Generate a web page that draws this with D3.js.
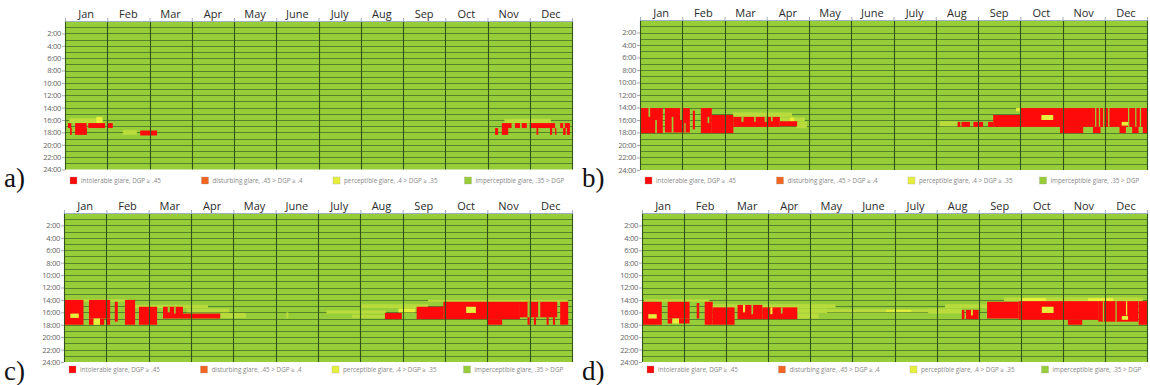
<!DOCTYPE html>
<html><head><meta charset="utf-8">
<script src="https://cdn.jsdelivr.net/npm/d3@7"></script>
<style>body{margin:0;background:#fff}svg{display:block}</style>
</head><body>
<svg id="chart" width="1150" height="385"></svg>
<script>
// ---------- DATA ----------
const months = ["Jan","Feb","Mar","Apr","May","June","July","Aug","Sep","Oct","Nov","Dec"];
const hourTicks = [2,4,6,8,10,12,14,16,18,20,22,24];
const hourLabels = hourTicks.map(h => h + ":00");
const legendLevels = ["r","o","y","g"];
const legendLabels = ["intolerable glare, DGP \u2265 .45","disturbing glare, .45 > DGP \u2265 .4","perceptible glare, .4 > DGP \u2265 .35","imperceptible glare, .35 > DGP"];
const panelLetters = ["a)","b)","c)","d)"];

// glare blocks: [startMonth, endMonth, startHour, endHour, level]
// level: r = intolerable, y = perceptible, p = faint perceptible, g = imperceptible (gap)
const glareA = [
  [0.10,0.90,15.7,16.5,"p"],[0.74,0.88,15.5,16.5,"y"],[1.37,1.70,17.6,18.4,"p"],
  [0.07,0.15,16.5,17.3,"r"],[0.24,0.51,16.5,17.3,"r"],[0.55,0.95,16.5,17.3,"r"],[1.00,1.13,16.5,17.3,"r"],
  [0.12,0.16,17.3,18.4,"r"],[0.24,0.52,17.3,18.4,"r"],[1.78,2.18,17.7,18.5,"r"],
  [10.40,11.50,15.8,16.5,"p"],
  [10.34,11.95,16.5,17.3,"r"],
  [10.57,10.65,16.5,17.3,"g"],[10.77,10.81,16.5,17.3,"g"],[10.93,11.00,16.5,17.3,"g"],[11.60,11.72,16.5,17.3,"g"],[11.79,11.83,16.5,17.3,"g"],
  [10.18,10.25,17.3,18.4,"r"],[10.34,10.49,17.3,18.4,"r"],[11.16,11.20,17.3,18.4,"r"],[11.48,11.53,17.3,18.4,"r"],
  [11.60,11.63,17.3,18.4,"r"],[11.79,11.85,17.3,18.4,"r"],[11.88,11.95,17.3,18.4,"r"]
];
const glareB = [
  [2.20,3.60,14.8,15.5,"p"],[3.30,3.90,15.6,16.2,"p"],[3.55,3.65,15.6,16.2,"y"],[3.70,3.95,16.3,17.3,"p"],
  [0.02,0.54,14.1,18.1,"r"],[0.20,0.24,14.1,15.5,"g"],[0.36,0.40,16.0,18.1,"g"],
  [0.59,1.18,14.1,18.0,"r"],[0.75,0.79,15.5,18.0,"g"],[0.95,0.99,14.1,16.0,"g"],[1.05,1.08,16.5,18.0,"g"],
  [1.25,1.30,14.5,17.5,"r"],
  [1.44,1.70,14.1,18.1,"r"],[1.70,2.21,15.2,18.1,"r"],[1.60,1.64,15.5,16.5,"g"],
  [2.21,3.31,15.5,17.1,"r"],[2.40,2.45,15.5,16.3,"g"],[2.70,2.74,15.5,16.3,"g"],[2.95,3.00,15.5,16.3,"g"],[3.10,3.14,15.5,16.2,"g"],
  [3.31,3.72,16.2,17.0,"r"],
  [7.10,7.50,16.2,17.0,"p"],[8.90,9.00,14.1,14.6,"y"],
  [7.52,7.58,16.3,17.1,"r"],[7.61,7.81,16.3,17.1,"r"],[7.89,8.12,16.3,17.1,"r"],[8.24,8.36,16.3,17.1,"r"],
  [8.36,9.00,15.2,17.1,"r"],[9.00,10.72,14.1,17.1,"r"],[9.94,10.49,17.1,18.1,"r"],
  [9.50,9.78,15.2,16.0,"y"],
  [10.72,12.00,14.1,17.1,"r"],
  [10.77,10.80,14.1,17.1,"g"],[10.86,10.89,14.1,17.1,"g"],[10.96,10.99,14.1,17.1,"g"],[11.08,11.11,14.1,17.1,"g"],[11.55,11.58,14.1,17.1,"g"],[11.72,11.75,14.1,17.1,"g"],[11.83,11.86,14.1,17.1,"g"],
  [10.72,10.90,17.1,18.1,"r"],[11.35,11.50,17.1,18.1,"r"],[11.65,11.80,17.1,18.1,"r"],[11.90,12.00,17.1,18.1,"r"],
  [11.40,11.55,16.3,16.9,"y"]
];
const glareC = [
  [0.05,1.50,13.9,14.3,"p"],[1.60,3.40,14.8,15.3,"p"],[2.90,3.90,15.4,16.0,"p"],[3.70,4.30,16.1,16.9,"p"],[5.25,5.30,16.0,17.0,"p"],
  [0.02,0.46,14.0,18.0,"r"],[0.15,0.35,16.2,16.9,"y"],
  [0.59,1.09,14.0,17.0,"r"],[0.59,0.70,17.0,18.0,"r"],[0.70,0.85,17.0,18.0,"y"],[0.85,0.95,17.0,18.0,"r"],[1.00,1.09,17.0,18.0,"r"],
  [1.20,1.27,14.3,17.5,"r"],
  [1.44,1.68,14.0,18.0,"r"],[1.77,2.20,15.1,18.0,"r"],
  [2.34,2.81,15.1,17.0,"r"],[2.45,2.50,15.1,16.0,"g"],[2.60,2.64,15.1,16.2,"g"],
  [2.81,3.69,16.2,17.0,"r"],
  [6.20,7.60,15.7,16.2,"p"],[7.00,8.60,14.7,15.3,"p"],[6.80,7.60,16.4,16.9,"p"],[8.60,11.90,14.0,14.3,"p"],[7.9,8.3,15.4,16.0,"y"],
  [7.58,7.98,16.1,17.1,"r"],[8.33,8.96,15.1,17.1,"r"],[8.96,10.77,14.3,17.1,"r"],[10.00,10.35,17.1,18.0,"r"],
  [9.50,9.73,15.1,16.1,"y"],
  [10.77,11.65,14.3,16.8,"r"],[10.95,11.00,14.3,16.8,"g"],[11.20,11.25,14.3,16.8,"g"],
  [10.95,11.00,16.8,18.0,"r"],[11.10,11.15,16.8,18.0,"r"],[11.40,11.45,16.8,18.0,"r"],[11.55,11.60,16.8,18.0,"r"],
  [11.72,11.91,14.3,18.0,"r"]
];
const glareD = [
  [0.05,1.60,13.9,14.3,"p"],[1.60,4.60,14.7,15.3,"p"],[3.00,4.40,15.4,16.1,"p"],[3.70,4.20,16.2,17.0,"p"],[4.40,7.00,15.5,16.0,"p"],[5.80,6.40,15.6,15.9,"y"],
  [0.02,0.47,14.3,18.0,"r"],[0.15,0.35,16.3,17.0,"y"],
  [0.61,1.13,14.3,17.0,"r"],[0.61,0.72,17.0,17.8,"r"],[0.72,0.88,17.0,17.8,"y"],[0.88,1.13,17.0,17.8,"r"],
  [1.30,1.36,14.5,17.0,"r"],
  [1.49,1.68,14.3,18.0,"r"],[1.68,2.20,15.2,18.0,"r"],
  [2.27,2.86,14.8,17.1,"r"],[2.40,2.45,14.8,16.0,"y"],[2.60,2.64,14.8,16.3,"g"],
  [2.86,3.69,15.2,17.1,"r"],[3.05,3.10,15.2,16.3,"y"],[3.30,3.34,15.2,16.2,"g"],
  [6.80,7.60,15.4,16.2,"p"],[7.20,8.60,14.7,15.3,"p"],[8.60,11.90,13.6,14.2,"p"],[9.0,9.6,13.7,14.2,"y"],[10.6,11.2,13.7,14.2,"y"],
  [7.60,7.66,15.6,17.1,"r"],[7.70,8.00,15.6,17.1,"r"],[7.82,7.86,15.6,16.5,"y"],
  [8.20,8.95,14.3,17.0,"r"],[8.95,10.84,14.2,17.2,"r"],[10.12,10.46,17.2,18.0,"r"],
  [9.50,9.78,15.1,16.1,"y"],
  [10.84,11.79,14.2,17.5,"r"],[10.95,10.98,14.2,17.5,"g"],[11.25,11.28,14.2,17.5,"g"],[11.50,11.53,14.2,16.5,"y"],
  [11.40,11.55,16.6,17.2,"y"],
  [11.80,12.00,14.2,18.0,"r"]
];
const panelData = [glareA, glareB, glareC, glareD];

// ---------- STYLE / LAYOUT ----------
const levelColor = {r:"#ff0a0a", o:"#f26522", y:"#e6f03c", p:"#b9dc3c", g:"#98cd3a"};
const layout = [
  {x0:65,  x1:572,  y0:21,  y1:169.5, lx:4,   ly:187, legY:177},
  {x0:640, x1:1147, y0:20,  y1:170,   lx:582, ly:187, legY:177},
  {x0:64,  x1:572,  y0:213, y1:362,   lx:4,   ly:380, legY:366},
  {x0:642, x1:1147, y0:213, y1:362,   lx:582, ly:380, legY:366}
];

const svg = d3.select("#chart");

layout.forEach((L, i) => {
  const g = svg.append("g");
  const x = d3.scaleLinear().domain([0, 12]).range([L.x0, L.x1]);
  const xb = d3.scaleBand().domain(months).range([L.x0, L.x1]);
  const y = d3.scaleLinear().domain([0, 24]).range([L.y0, L.y1]);

  g.append("rect").attr("x", L.x0).attr("y", L.y0)
    .attr("width", L.x1 - L.x0).attr("height", L.y1 - L.y0)
    .attr("fill", levelColor.g);

  // hour row lines
  g.selectAll(".hl").data(d3.range(1, 24)).join("line")
    .attr("x1", L.x0).attr("x2", L.x1)
    .attr("y1", d => Math.round(y(d)) + 0.5).attr("y2", d => Math.round(y(d)) + 0.5)
    .attr("stroke", "#55832b").attr("stroke-width", 1);

  // glare cells
  g.selectAll(".cell").data(panelData[i]).join("rect")
    .attr("x", d => x(d[0])).attr("width", d => Math.max(0.8, x(d[1]) - x(d[0])))
    .attr("y", d => y(d[2])).attr("height", d => y(d[3]) - y(d[2]))
    .attr("fill", d => levelColor[d[4]]);

  // month boundary lines
  g.selectAll(".ml").data(d3.range(0, 13)).join("line")
    .attr("x1", d => Math.round(x(d)) + 0.5).attr("x2", d => Math.round(x(d)) + 0.5)
    .attr("y1", L.y0).attr("y2", L.y1)
    .attr("stroke", "#33531c").attr("stroke-width", 1.1);

  // top axis
  const top = d3.axisTop(x).tickValues(d3.range(0, 13)).tickSize(3).tickFormat("");
  const ta = g.append("g").attr("transform", `translate(0,${L.y0})`).call(top);
  ta.selectAll("path,line").attr("stroke", "#9fb0c4");
  g.selectAll(".mlab").data(months).join("text")
    .attr("x", d => xb(d) + xb.bandwidth() / 2).attr("y", L.y0 - 3)
    .attr("text-anchor", "middle").attr("font-family", "Open Sans, sans-serif")
    .attr("font-size", 11).attr("fill", "#2a2a2a").text(d => d);

  // left axis
  const left = d3.axisLeft(y).tickValues(hourTicks).tickSize(3).tickPadding(1)
    .tickFormat((d, k) => hourLabels[k]);
  const la = g.append("g").attr("transform", `translate(${L.x0},0)`).call(left);
  la.select(".domain").remove();
  la.selectAll("line").attr("stroke", "#aaa");
  la.selectAll("text").attr("font-family", "Open Sans, sans-serif").attr("font-size", 7.6)
    .attr("fill", "#666").attr("letter-spacing", -0.3);

  // legend
  const lg = g.append("g");
  legendLevels.forEach((lv, k) => {
    const lx = L.x0 + 5 + k * 131.5;
    lg.append("rect").attr("x", lx).attr("y", L.legY).attr("width", 7).attr("height", 7)
      .attr("fill", levelColor[lv]).attr("stroke", "#999").attr("stroke-width", 0.3);
    lg.append("text").attr("x", lx + 11).attr("y", L.legY + 6)
      .attr("font-family", "Open Sans, sans-serif").attr("font-size", 6.3)
      .attr("fill", "#888").text(legendLabels[k]);
  });

  // panel letter
  svg.append("text").attr("x", L.lx).attr("y", L.ly)
    .attr("font-family", "Liberation Serif, serif").attr("font-size", 27)
    .attr("fill", "#111").text(panelLetters[i]);
});
</script>
</body></html>
